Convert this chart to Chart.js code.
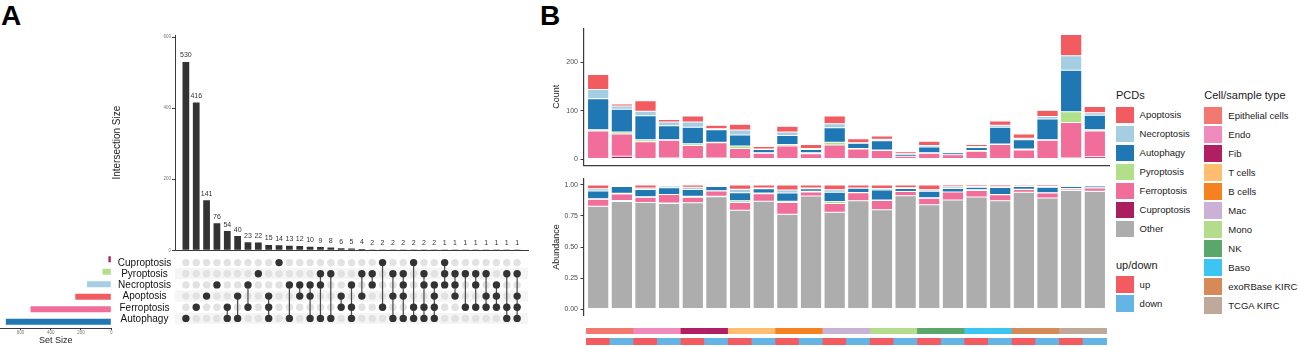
<!DOCTYPE html>
<html><head><meta charset="utf-8">
<script src="https://cdn.jsdelivr.net/npm/chart.js@4.4.0/dist/chart.umd.min.js"></script>
<style>
body{margin:0;background:#fff;width:1299px;height:347px;overflow:hidden;position:relative;font-family:"Liberation Sans",Arial,sans-serif;}
canvas{position:absolute;}
.panel{position:absolute;font-weight:bold;font-size:28px;line-height:1;color:#000;}
.lt{position:absolute;font-size:11px;line-height:1;color:#1a1a1a;white-space:nowrap;}
.li{position:absolute;font-size:9.5px;line-height:1;color:#1a1a1a;white-space:nowrap;}
.sw{position:absolute;}
</style></head><body>
<div class="panel" style="left:1px;top:2px">A</div>
<div class="panel" style="left:540px;top:2px">B</div>
<canvas id="cInter" width="430" height="226" style="left:105px;top:30px"></canvas>
<canvas id="cMatrix" width="430" height="75" style="left:105px;top:253px"></canvas>
<canvas id="cSet" width="116" height="94" style="left:0px;top:253px"></canvas>
<canvas id="cCount" width="575" height="152" style="left:540px;top:20px"></canvas>
<canvas id="cAbund" width="575" height="150" style="left:540px;top:172px"></canvas>
<canvas id="cCell" width="575" height="6" style="left:540px;top:328px"></canvas>
<canvas id="cDir" width="575" height="7" style="left:540px;top:338px"></canvas>
<div id="legends"></div>
<script>
// ---------------- Panel A data ----------------
const setNames = ['Cuproptosis','Pyroptosis','Necroptosis','Apoptosis','Ferroptosis','Autophagy'];
const setSizes = [19, 58, 160, 238, 533, 696];
const setColors = ['#B01F66','#B2DF8A','#A6CEE3','#F25B60','#F16E9B','#1F78B4'];
const intersectionSizes = [530,416,141,76,54,40,23,22,15,14,13,12,10,9,8,6,5,4,2,2,2,2,2,2,2,1,1,1,1,1,1,1,1];
const intersectionMembers = [
 ['Autophagy'],
 ['Ferroptosis'],
 ['Apoptosis'],
 ['Necroptosis'],
 ['Ferroptosis','Autophagy'],
 ['Apoptosis','Autophagy'],
 ['Necroptosis','Ferroptosis'],
 ['Pyroptosis'],
 ['Apoptosis','Ferroptosis','Autophagy'],
 ['Cuproptosis'],
 ['Necroptosis','Autophagy'],
 ['Necroptosis','Apoptosis'],
 ['Necroptosis','Apoptosis','Autophagy'],
 ['Pyroptosis','Necroptosis','Autophagy'],
 ['Pyroptosis','Autophagy'],
 ['Apoptosis','Ferroptosis'],
 ['Necroptosis','Ferroptosis','Autophagy'],
 ['Pyroptosis','Apoptosis'],
 ['Pyroptosis','Necroptosis'],
 ['Cuproptosis','Ferroptosis'],
 ['Pyroptosis','Apoptosis','Autophagy'],
 ['Pyroptosis','Necroptosis','Apoptosis','Autophagy'],
 ['Cuproptosis','Ferroptosis','Autophagy'],
 ['Pyroptosis','Necroptosis','Ferroptosis','Autophagy'],
 ['Necroptosis','Apoptosis','Ferroptosis','Autophagy'],
 ['Cuproptosis','Pyroptosis','Necroptosis'],
 ['Pyroptosis','Necroptosis','Apoptosis'],
 ['Pyroptosis','Ferroptosis'],
 ['Pyroptosis','Necroptosis','Ferroptosis'],
 ['Pyroptosis','Apoptosis','Ferroptosis'],
 ['Necroptosis','Apoptosis','Ferroptosis'],
 ['Pyroptosis','Ferroptosis','Autophagy'],
 ['Pyroptosis','Apoptosis','Ferroptosis','Autophagy']
];
const intersectionTicks = [0,200,400,600];
const setSizeTicks = [0,200,400,600];

// ---------------- Panel B data ----------------
const cellTypes = ['Epithelial cells','Endo','Fib','T cells','B cells','Mac','Mono','NK','Baso','exoRBase KIRC','TCGA KIRC'];
const cellColors = ['#F37870','#F08BBE','#B01F63','#FDBE72','#F68121','#CAB2D6','#B3DC8C','#5AA66B','#3CC5F0','#D58A58','#BEA99A'];
const directions = ['up','down'];
const directionColors = ['#F25C60','#64B4E6'];
const pcdLegendNames = ['Apoptosis','Necroptosis','Autophagy','Pyroptosis','Ferroptosis','Cuproptosis','Other'];
const pcdLegendColors = ['#F25B60','#A6CEE3','#1F78B4','#B2DF8A','#F16E9B','#AB1E5F','#ADADAD'];
// counts per sample (cell type x up/down), 22 samples
const cuproptosisCount = [0,6,0,2,0,2,0,0,0,0,0,0,0,0,0,0,0,0,0,0,2,5];
const ferroptosisCount = [58,46,36,37,28,32,22,12,27,11,29,21,18,6,12,9,16,30,19,39,74,53];
const pyroptosisCount  = [3,4,4,1,4,1,5,1,3,2,6,1,1,0,1,0,2,1,2,1,22,3];
const autophagyCount   = [64,47,50,29,34,26,23,7,19,7,30,11,19,4,12,4,6,35,19,43,86,30];
const necroptosisCount = [19,7,9,8,11,2,10,1,7,2,8,1,3,1,3,2,2,4,3,5,30,5];
const apoptosisCount   = [31,4,22,5,12,7,12,5,12,8,16,8,7,4,9,2,4,9,9,13,44,13];
// fraction of genes not in any PCD set (grey "Other" in abundance panel)
const otherFraction = [0.828,0.867,0.859,0.851,0.856,0.905,0.795,0.869,0.764,0.910,0.779,0.872,0.800,0.913,0.841,0.879,0.903,0.872,0.941,0.895,0.954,0.946];
const countTicks = [0,100,200];
const abundanceTicks = [0,0.25,0.5,0.75,1];

// ---------------- setup ----------------
Chart.defaults.font.family = '"Liberation Sans", Arial, sans-serif';
Chart.defaults.color = '#333';
const common = {responsive:false, maintainAspectRatio:false, animation:false,
  plugins:{legend:{display:false}, tooltip:{enabled:false}}};
const AX = '#3a3a3a';

// ---------- A: intersection size bars ----------
new Chart(document.getElementById('cInter'), {
  type:'bar',
  data:{datasets:[{data:intersectionSizes.map((v,i)=>({x:i,y:v})), backgroundColor:'#333333', barPercentage:0.65, categoryPercentage:1}]},
  options:{...common,
    layout:{padding:{top:5,right:7,left:0,bottom:0}},
    scales:{
      x:{type:'linear', offset:false, min:-1.05, max:33.05, grid:{display:false, drawTicks:false}, ticks:{display:false},
         border:{display:true, color:AX, width:1}, afterFit:s=>{s.height=5.7;}},
      y:{type:'linear', min:0, max:606,
         afterBuildTicks:s=>{s.ticks=intersectionTicks.map(v=>({value:v}));},
         grid:{display:true, drawOnChartArea:false, drawTicks:true, tickLength:3, color:AX},
         border:{display:true, color:AX, width:1},
         ticks:{font:{size:4.5}, color:'#777', padding:1},
         title:{display:true, text:'Intersection Size', font:{size:10}, color:'#222', padding:{top:6,bottom:0}},
         afterFit:s=>{s.width=70;}}
    }
  },
  plugins:[{id:'barLabels', afterDatasetsDraw(chart){
    const ctx=chart.ctx; const meta=chart.getDatasetMeta(0);
    ctx.save(); ctx.font='7px "Liberation Sans", Arial, sans-serif'; ctx.fillStyle='#333';
    ctx.textAlign='center'; ctx.textBaseline='bottom';
    meta.data.forEach((b,i)=>ctx.fillText(String(intersectionSizes[i]), b.x, b.y-3));
    ctx.restore();
  }}]
});

// ---------- A: matrix ----------
const inactivePts=[], activePts=[], lineSets=[];
intersectionMembers.forEach((mem,i)=>{
  setNames.forEach(s=>{ (mem.includes(s)?activePts:inactivePts).push({x:i,y:s}); });
  if(mem.length>1){
    const idx=mem.map(m=>setNames.indexOf(m));
    lineSets.push({type:'line', data:[{x:i,y:setNames[Math.min(...idx)]},{x:i,y:setNames[Math.max(...idx)]}],
      borderColor:'#4a4a4a', borderWidth:1.2, pointRadius:0, order:2});
  }
});
new Chart(document.getElementById('cMatrix'), {
  type:'scatter',
  data:{datasets:[
    {data:inactivePts, backgroundColor:'#E2E2E2', borderWidth:0, pointRadius:3.7, order:3},
    ...lineSets,
    {data:activePts, backgroundColor:'#333333', borderWidth:0, pointRadius:3.7, order:1}
  ]},
  options:{...common,
    layout:{padding:{top:0,right:7,left:70,bottom:0}},
    scales:{
      x:{type:'linear', min:-1.05, max:33.05, display:false},
      y:{type:'category', labels:setNames, offset:true, display:false}
    }
  },
  plugins:[{id:'stripesAndLabels',
    beforeDatasetsDraw(chart){
      const {ctx, chartArea:a, scales:{y}} = chart;
      const h = y.getPixelForValue(1)-y.getPixelForValue(0);
      ctx.save(); ctx.fillStyle='#F5F5F5';
      setNames.forEach((s,i)=>{ if(i%2===1){ const yc=y.getPixelForValue(i); ctx.fillRect(a.left, yc-h/2, a.right-a.left, h);} });
      ctx.restore();
    },
    afterDraw(chart){
      const {ctx, chartArea:a, scales:{y}} = chart;
      ctx.save(); ctx.font='10px "Liberation Sans", Arial, sans-serif'; ctx.fillStyle='#111';
      ctx.textAlign='center'; ctx.textBaseline='middle';
      setNames.forEach((s,i)=>ctx.fillText(s, a.left-30.5, y.getPixelForValue(i)+0.5));
      ctx.restore();
    }
  }]
});

// ---------- A: set size ----------
new Chart(document.getElementById('cSet'), {
  type:'bar',
  data:{labels:setNames, datasets:[{data:setSizes, backgroundColor:setColors, barPercentage:0.48, categoryPercentage:1}]},
  options:{...common, indexAxis:'y',
    layout:{padding:{top:0,right:4.7,left:0,bottom:0}},
    scales:{
      y:{display:false, offset:true},
      x:{type:'linear', reverse:true, min:0, max:734.6,
         afterBuildTicks:s=>{s.ticks=setSizeTicks.map(v=>({value:v}));},
         grid:{display:true, drawOnChartArea:false, drawTicks:true, tickLength:2, color:AX},
         border:{display:true, color:AX, width:1},
         ticks:{font:{size:4.5}, color:'#777', padding:0, maxRotation:0},
         title:{display:true, text:'Set Size', font:{size:9}, color:'#222', padding:{top:0,bottom:1}},
         afterFit:s=>{s.height=19;}}
    }
  }
});

// ---------- B: counts ----------
const nSamples = otherFraction.length;
const pcdSeries = [
  {name:'Cuproptosis', color:'#AB1E5F', counts:cuproptosisCount},
  {name:'Ferroptosis', color:'#F16E9B', counts:ferroptosisCount},
  {name:'Pyroptosis',  color:'#B2DF8A', counts:pyroptosisCount},
  {name:'Autophagy',   color:'#1F78B4', counts:autophagyCount},
  {name:'Necroptosis', color:'#A6CEE3', counts:necroptosisCount},
  {name:'Apoptosis',   color:'#F25B60', counts:apoptosisCount}
];
const barStyle = {barPercentage:0.9, categoryPercentage:1, borderColor:'#ffffff', borderWidth:0.5, borderSkipped:false};
const xB = {type:'linear', offset:false, min:-0.6, max:nSamples-1+0.6};

new Chart(document.getElementById('cCount'), {
  type:'bar',
  data:{datasets:pcdSeries.map(s=>({label:s.name, data:s.counts.map((v,i)=>({x:i,y:v})), backgroundColor:s.color, ...barStyle}))},
  options:{...common,
    layout:{padding:{top:8.3,right:6,left:0,bottom:0}},
    scales:{
      x:{...xB, stacked:true, grid:{display:false, drawTicks:false}, ticks:{display:false},
         border:{display:true, color:AX, width:1.2}, afterFit:s=>{s.height=1;}},
      y:{stacked:true, min:-12.9, max:270.9,
         afterBuildTicks:s=>{s.ticks=countTicks.map(v=>({value:v}));},
         grid:{display:true, drawOnChartArea:false, drawTicks:true, tickLength:3.5, color:AX},
         border:{display:true, color:AX, width:1.2},
         ticks:{font:{size:7}, color:'#4D4D4D', padding:2.5},
         title:{display:true, text:'Count', font:{size:9}, color:'#222', padding:{top:11,bottom:0}},
         afterFit:s=>{s.width=44;}}
    }
  }
});

// ---------- B: abundance ----------
const totals = otherFraction.map((o,i)=>pcdSeries.reduce((acc,s)=>acc+s.counts[i],0));
const abundDatasets = [{label:'Other', data:otherFraction.map((v,i)=>({x:i,y:v})), backgroundColor:'#ADADAD', ...barStyle}]
  .concat(pcdSeries.map(s=>({label:s.name, backgroundColor:s.color, ...barStyle,
     data:s.counts.map((c,i)=>({x:i, y: totals[i] ? c*(1-otherFraction[i])/totals[i] : 0}))})));
new Chart(document.getElementById('cAbund'), {
  type:'bar',
  data:{datasets:abundDatasets},
  options:{...common,
    layout:{padding:{top:5.8,right:6,left:0,bottom:1.2}},
    scales:{
      x:{...xB, stacked:true, display:false},
      y:{stacked:true, min:-0.05, max:1.05,
         afterBuildTicks:s=>{s.ticks=abundanceTicks.map(v=>({value:v}));},
         grid:{display:true, drawOnChartArea:false, drawTicks:true, tickLength:3.5, color:AX},
         border:{display:true, color:AX, width:1.2},
         ticks:{font:{size:7}, color:'#4D4D4D', padding:2.5, callback:v=>Number(v).toFixed(2)},
         title:{display:true, text:'Abundance', font:{size:9}, color:'#222', padding:{top:11,bottom:0}},
         afterFit:s=>{s.width=44;}}
    }
  }
});

// ---------- B: annotation strips ----------
const sampleCellIdx = Array.from({length:nSamples},(_,i)=>Math.floor(i/directions.length));
const sampleDirIdx = Array.from({length:nSamples},(_,i)=>i%directions.length);
function strip(id, colors){
  new Chart(document.getElementById(id), {
    type:'bar',
    data:{datasets:[{data:colors.map((c,i)=>({x:i,y:1})), backgroundColor:colors, barPercentage:1, categoryPercentage:1, borderWidth:0}]},
    options:{...common, layout:{padding:{left:44,right:6,top:0,bottom:0}},
      scales:{x:{...xB, display:false}, y:{min:0,max:1,display:false}}}
  });
}
strip('cCell', sampleCellIdx.map(k=>cellColors[k]));
strip('cDir', sampleDirIdx.map(k=>directionColors[k]));

// ---------- B: legends ----------
const L = document.getElementById('legends');
function addLegend(x, titleCy, firstCy, title, names, colors, swW){
  const t=document.createElement('div'); t.className='lt'; t.textContent=title;
  t.style.left=x+'px'; t.style.top=(titleCy-5.5)+'px'; L.appendChild(t);
  names.forEach((n,i)=>{
    const cy=firstCy+i*19;
    const s=document.createElement('div'); s.className='sw';
    s.style.cssText=`left:${x}px;top:${cy-8.4}px;width:${swW}px;height:16.8px;background:${colors[i]}`;
    L.appendChild(s);
    const l=document.createElement('div'); l.className='li'; l.textContent=n;
    l.style.left=(x+swW+6)+'px'; l.style.top=(cy-5)+'px'; L.appendChild(l);
  });
}
addLegend(1116, 95, 115, 'PCDs', pcdLegendNames, pcdLegendColors, 17.6);
addLegend(1116, 265, 284.7, 'up/down', directions, directionColors, 17.6);
addLegend(1204.3, 95, 115.8, 'Cell/sample type', cellTypes, cellColors, 18);
</script>
</body></html>
